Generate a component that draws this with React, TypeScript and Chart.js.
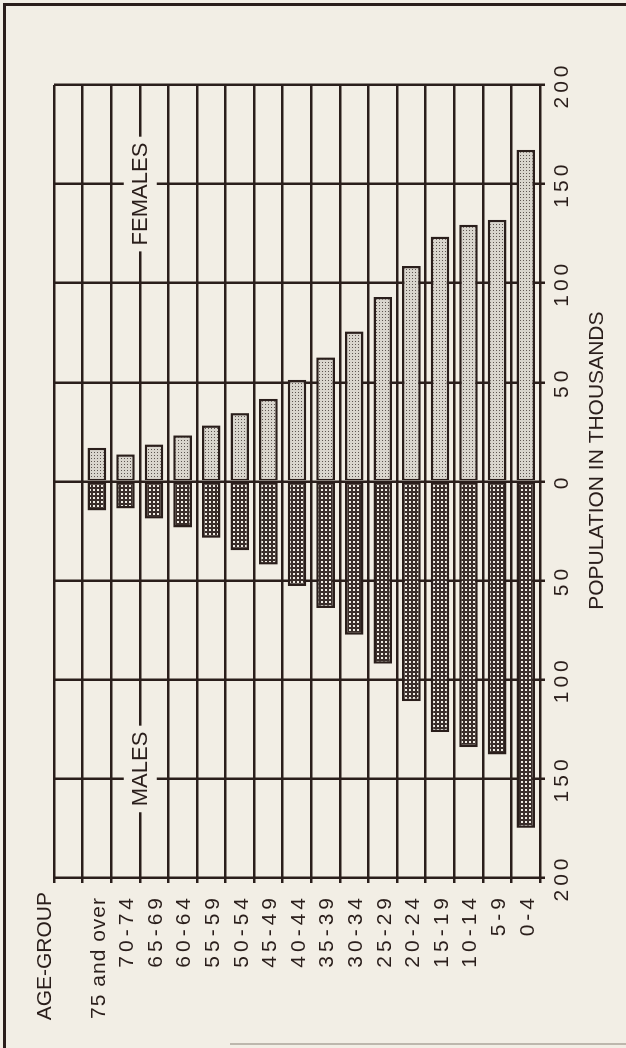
import React, { useEffect, useRef } from "react";
import { Chart, registerables } from "chart.js";

Chart.register(...registerables);

// ---- data ----
const headerRow = "";
const ageGroups = [
  "75 and over", "70-74", "65-69", "60-64", "55-59", "50-54", "45-49", "40-44",
  "35-39", "30-34", "25-29", "20-24", "15-19", "10-14", "5-9", "0-4",
];
const femalesThousands = [17, 13.7, 18.7, 23.3, 28.3, 34.5, 41.7, 51.3, 62.6, 75.7, 93.1, 108.7, 123.5, 129.5, 132, 167.3];
const malesThousands = [14.6, 13.6, 18.7, 23.2, 28.4, 34.7, 41.9, 52.7, 63.8, 77.3, 91.9, 110.8, 126.4, 134, 137.7, 174.7];
const valueMin = -200;
const valueMax = 200;
const valueStep = 50;
const axisTitle = "POPULATION IN THOUSANDS";
const rowTitle = "AGE-GROUP";
const femaleLabel = "FEMALES";
const maleLabel = "MALES";
const sexLabelValue = 145;

// ---- style ----
const BG = "rgb(242,238,229)";
const INK = "#2a1e1b";
const FONT = "'Liberation Sans', Arial, Helvetica, sans-serif";

function makePattern(size: number, bg: string, dot: string, dots: number[][]) {
  const c = document.createElement("canvas");
  c.width = size;
  c.height = size;
  const g = c.getContext("2d")!;
  g.fillStyle = bg;
  g.fillRect(0, 0, size, size);
  g.fillStyle = dot;
  dots.forEach(([x, y, s]) => g.fillRect(x, y, s, s));
  return g.createPattern(c, "repeat")!;
}

const annotate = {
  id: "annotate",
  beforeDraw(chart: any) {
    chart.ctx.letterSpacing = "4px";
  },
  afterDraw(chart: any) {
    const ctx = chart.ctx;
    const xs = chart.scales.x;
    const ys = chart.scales.y;
    const area = chart.chartArea;
    ctx.save();
    ctx.letterSpacing = "0px";
    ctx.fillStyle = INK;
    ctx.textBaseline = "middle";

    // row labels
    ctx.font = `21px ${FONT}`;
    ctx.textAlign = "right";
    (chart.data.labels as string[]).forEach((lab, i) => {
      if (!lab) return;
      const sp = /^[0-9-]+$/.test(lab) ? 4 : 1;
      ctx.letterSpacing = sp + "px";
      ctx.fillText(lab, area.left - 20 + sp, ys.getPixelForValue(i) + 2);
    });

    // row title
    ctx.letterSpacing = "0px";
    ctx.textAlign = "right";
    ctx.fillText(rowTitle, area.left - 14, area.top - 9);

    // axis title
    ctx.textAlign = "center";
    ctx.fillText(axisTitle, xs.getPixelForValue(10.5), area.bottom + 57);

    // sex labels on separator line
    ctx.font = `22px ${FONT}`;
    const cy = (ys.getPixelForValue(2) + ys.getPixelForValue(3)) / 2;
    [
      [femaleLabel, sexLabelValue],
      [maleLabel, -sexLabelValue],
    ].forEach(([txt, v]) => {
      const cx = xs.getPixelForValue(v as number);
      const w = ctx.measureText(txt as string).width;
      ctx.fillStyle = BG;
      ctx.fillRect(cx - w / 2 - 6, cy - 16, w + 12, 33);
      ctx.fillStyle = INK;
      ctx.fillText(txt as string, cx, cy + 1);
    });
    ctx.restore();
  },
};

export default function App() {
  const ref = useRef<HTMLCanvasElement>(null);

  useEffect(() => {
    const canvas = ref.current;
    if (!canvas) return;
    const femalePattern = makePattern(3, "#d9d5cd", "#5e5651", [[1, 1, 1]]);
    const malePattern = makePattern(4, "#3a2e2b", "#efebe3", [[1, 1, 2]]);

    const labels = [headerRow, ...ageGroups];
    const femaleData = [null, ...femalesThousands];
    const maleData = [null, ...malesThousands.map((v) => -v)];

    const chart = new Chart(canvas, {
      type: "bar",
      data: {
        labels,
        datasets: [
          {
            label: femaleLabel,
            data: femaleData as any,
            backgroundColor: femalePattern as any,
            borderColor: INK,
            borderWidth: { top: 2.5, bottom: 2.5, right: 2.5, left: 1.5 } as any,
            borderSkipped: false,
            barPercentage: 0.65,
            categoryPercentage: 1,
          },
          {
            label: maleLabel,
            data: maleData as any,
            backgroundColor: malePattern as any,
            borderColor: INK,
            borderWidth: { top: 2.5, bottom: 2.5, left: 2.5, right: 1.5 } as any,
            borderSkipped: false,
            barPercentage: 0.65,
            categoryPercentage: 1,
          },
        ],
      },
      options: {
        indexAxis: "y",
        responsive: false,
        animation: false,
        devicePixelRatio: 1,
        layout: { padding: { top: 54, right: 85, bottom: 0, left: 0 } },
        plugins: {
          legend: { display: false },
          tooltip: { enabled: false },
          title: { display: false },
        },
        scales: {
          x: {
            type: "linear",
            min: valueMin,
            max: valueMax,
            stacked: true,
            position: "bottom",
            ticks: {
              stepSize: valueStep,
              callback: (v: any) => String(Math.abs(Number(v))),
              color: INK,
              font: { family: FONT, size: 21 },
              padding: 5,
              maxRotation: 0,
              minRotation: 0,
              autoSkip: false,
            },
            grid: { color: INK, lineWidth: 2.5, tickLength: 5, drawTicks: true },
            border: { display: false },
            afterFit: (s: any) => {
              s.height = 86;
            },
          },
          y: {
            type: "category",
            stacked: true,
            position: "left",
            offset: true,
            ticks: { display: false },
            grid: { offset: true, color: INK, lineWidth: 2.5, tickLength: 5, drawTicks: true },
            border: { display: false },
            afterFit: (s: any) => {
              s.width = 170;
            },
          },
        },
      } as any,
      plugins: [annotate],
    });
    return () => chart.destroy();
  }, []);

  return (
    <div style={{ position: "fixed", left: 0, top: 0, width: 626, height: 1048, background: BG, overflow: "hidden" }}>
      <div
        style={{
          position: "absolute",
          left: 3,
          top: 3,
          width: 626,
          height: 1048,
          borderLeft: `3px solid ${INK}`,
          borderTop: `3px solid ${INK}`,
        }}
      />
      <div style={{ position: "absolute", left: 230, top: 1043, width: 396, height: 2, background: "#bdb7ad" }} />
      <div
        style={{
          position: "absolute",
          left: 0,
          top: 0,
          width: 1048,
          height: 626,
          transformOrigin: "0 0",
          transform: "translateY(1048px) rotate(-90deg)",
        }}
      >
        <canvas ref={ref} width={1048} height={626} style={{ display: "block", width: 1048, height: 626 }} />
      </div>
    </div>
  );
}
